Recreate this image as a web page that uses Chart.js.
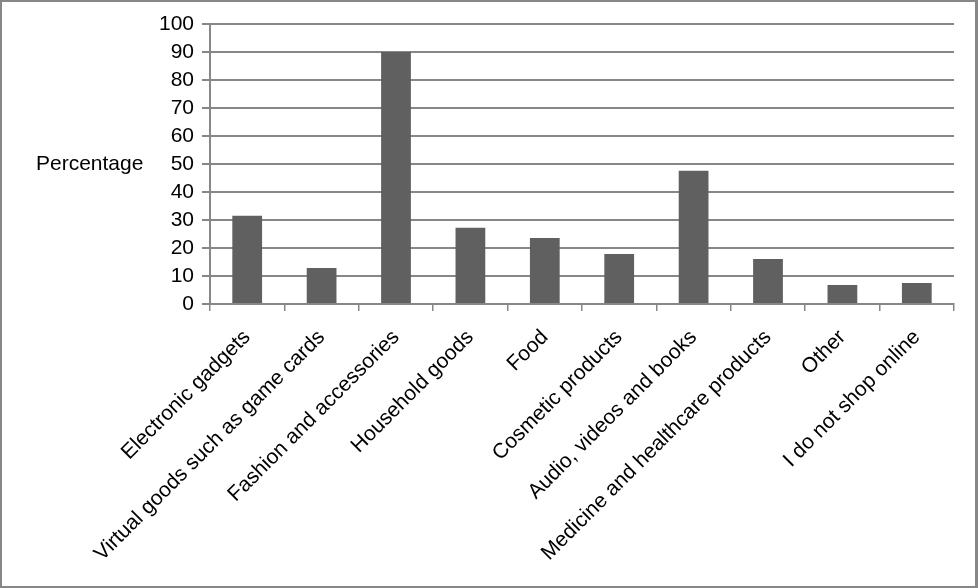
<!DOCTYPE html>
<html>
<head>
<meta charset="utf-8">
<script src="https://cdn.jsdelivr.net/npm/chart.js@4"></script>
<style>
    html, body { margin: 0; padding: 0; background: #fff; }
    #wrap {
        position: absolute; left: 0; top: 0;
        width: 978px; height: 588px;
        box-sizing: border-box;
        border: 2px solid #878787;
        border-right-width: 3px;
    }
    #wrap canvas { position: absolute; left: -2px; top: -2px; }
</style>
</head>
<body>
<div id="wrap"><canvas id="shopChart" width="978" height="588"></canvas></div>
<script>
const categories = [
    'Electronic gadgets',
    'Virtual goods such as game cards',
    'Fashion and accessories',
    'Household goods',
    'Food',
    'Cosmetic products',
    'Audio, videos and books',
    'Medicine and healthcare products',
    'Other',
    'I do not shop online'
];
const percentages = [31.5, 12.9, 90.0, 27.2, 23.6, 17.9, 47.6, 16.1, 6.8, 7.5];
const yTicks = [0, 10, 20, 30, 40, 50, 60, 70, 80, 90, 100];
const yTitle = 'Percentage';

const FONT = "'Liberation Sans', Arial, sans-serif";
const GRID = '#878787';

// horizontal axis title next to the 50 tick
const sideTitle = {
    id: 'sideTitle',
    afterDraw(chart) {
        const c = chart.ctx;
        const y = chart.scales.y.getPixelForValue(50);
        c.save();
        c.font = '21px ' + FONT;
        c.fillStyle = '#000';
        c.textAlign = 'left';
        c.textBaseline = 'middle';
        c.fillText(yTitle, 36, y);
        c.restore();
    }
};

const ctx = document.getElementById('shopChart').getContext('2d');
new Chart(ctx, {
    type: 'bar',
    data: {
        labels: categories,
        datasets: [{
            label: yTitle,
            data: percentages,
            backgroundColor: '#606060',
            borderWidth: 0,
            barPercentage: 0.4,
            categoryPercentage: 1.0
        }]
    },
    options: {
        responsive: false,
        animation: false,
        devicePixelRatio: 1,
        layout: { padding: { top: 24, right: 24, left: 0, bottom: 0 } },
        plugins: {
            legend: { display: false },
            tooltip: { enabled: false }
        },
        scales: {
            x: {
                grid: {
                    drawOnChartArea: false,
                    drawTicks: true,
                    tickLength: 7,
                    color: GRID,
                    lineWidth: 1.5
                },
                border: { color: GRID, width: 2 },
                ticks: {
                    color: '#000',
                    font: { family: FONT, size: 21 },
                    maxRotation: 45,
                    minRotation: 45,
                    autoSkip: false,
                    padding: 14
                },
                afterFit: function(scale) { scale.height = 284; }
            },
            y: {
                min: 0,
                max: 100,
                afterBuildTicks: function(scale) {
                    scale.ticks = yTicks.map(v => ({ value: v }));
                },
                grid: {
                    color: GRID,
                    lineWidth: 2,
                    tickLength: 8
                },
                border: { color: GRID, width: 2 },
                ticks: {
                    color: '#000',
                    font: { family: FONT, size: 21 },
                    autoSkip: false,
                    padding: 8
                },
                afterFit: function(scale) { scale.width = 210; }
            }
        }
    },
    plugins: [sideTitle]
});
</script>
</body>
</html>
